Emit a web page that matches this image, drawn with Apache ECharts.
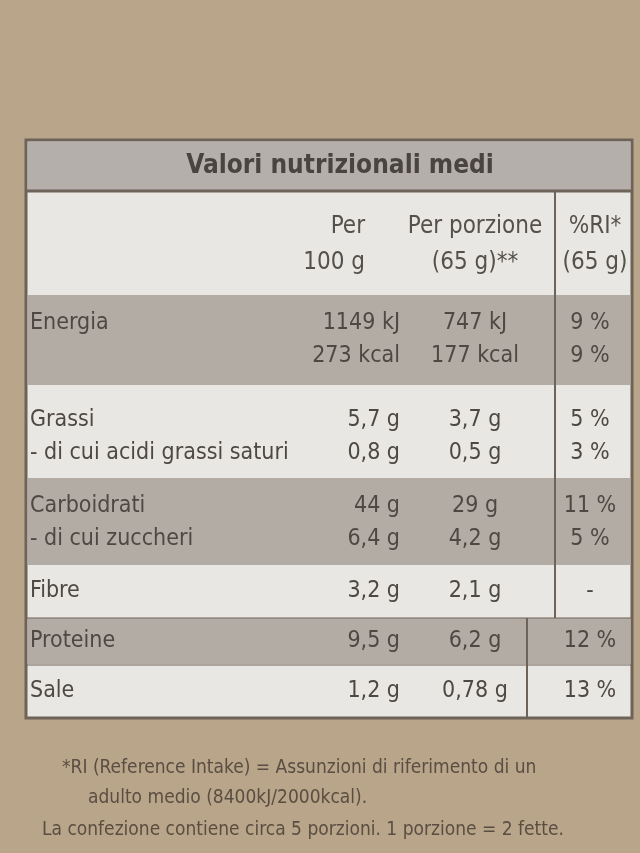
<!DOCTYPE html>
<html><head><meta charset="utf-8">
<script src="https://cdn.jsdelivr.net/npm/echarts@6/dist/echarts.min.js"></script>
<style>html,body{margin:0;padding:0;background:#b8a58a}#c{width:640px;height:853px}</style>
</head><body><div id="c"></div>
<script>
const title = "Valori nutrizionali medi";
const headers = [["", ""], ["Per", "100 g"], ["Per porzione", "(65 g)**"], ["%RI*", "(65 g)"]];
const nutrients = [
  ["Energia", ""],
  ["Grassi", "- di cui acidi grassi saturi"],
  ["Carboidrati", "- di cui zuccheri"],
  ["Fibre"],
  ["Proteine"],
  ["Sale"]
];
const per100 = [["1149 kJ", "273 kcal"], ["5,7 g", "0,8 g"], ["44 g", "6,4 g"], ["3,2 g"], ["9,5 g"], ["1,2 g"]];
const perPortion = [["747 kJ", "177 kcal"], ["3,7 g", "0,5 g"], ["29 g", "4,2 g"], ["2,1 g"], ["6,2 g"], ["0,78 g"]];
const ri = [["9 %", "9 %"], ["5 %", "3 %"], ["11 %", "5 %"], ["-"], ["12 %"], ["13 %"]];
const footer = [
  "*RI (Reference Intake) = Assunzioni di riferimento di un",
  "adulto medio (8400kJ/2000kcal).",
  "La confezione contiene circa 5 porzioni. 1 porzione = 2 fette."
];

const rowTops = [295, 392, 478, 568, 618, 666];
const rowBottoms = [385, 472, 565, 615, 664, 716];
const L = 26, R = 632, D = 555;
const font = '"Liberation Sans Narrow","DejaVu Sans Condensed",sans-serif';
const g = [];
g.push({type:'rect', shape:{x:L,y:140,width:R-L,height:578}, style:{fill:'#e9e7e3', stroke:'#6e6358', lineWidth:3}});
g.push({type:'rect', shape:{x:L+2,y:142,width:R-L-4,height:48}, style:{fill:'#b4afaa'}});
g.push({type:'text', x:340, y:166, style:{text:title, font:'bold 26px '+font, fill:'#4a4440', align:'center', verticalAlign:'middle'}});
const colX = [0, 365, 475, 595];
headers.forEach((h, i) => {
  if (!i) return;
  g.push({type:'text', x:colX[i], y:245, style:{text:h[0]+'\n'+h[1], font:'24px '+font, fill:'#55504b', align: i===1?'right':'center', verticalAlign:'middle', lineHeight:36}});
});
nutrients.forEach((n, i) => {
  const shaded = i % 2 === 0;
  if (shaded) g.push({type:'rect', shape:{x:L+2,y:rowTops[i],width:R-L-4,height:rowBottoms[i]-rowTops[i]}, style:{fill:'#b2aca5'}});
  const lines = n.length;
  const top = rowTops[i] + (lines === 2 ? 28 : (rowBottoms[i]-rowTops[i])/2);
  for (let k = 0; k < lines; k++) {
    const y = top + k * 33;
    if (n[k]) g.push({type:'text', x:30, y:y, style:{text:n[k], font:'23px '+font, fill:'#4e4843', verticalAlign:'middle'}});
    g.push({type:'text', x:400, y:y, style:{text:per100[i][k], font:'23px '+font, fill:'#4e4843', align:'right', verticalAlign:'middle'}});
    g.push({type:'text', x:475, y:y, style:{text:perPortion[i][k], font:'23px '+font, fill:'#4e4843', align:'center', verticalAlign:'middle'}});
    g.push({type:'text', x:590, y:y, style:{text:ri[i][k], font:'23px '+font, fill:'#4e4843', align:'center', verticalAlign:'middle'}});
  }
});
g.push({type:'line', shape:{x1:L,y1:191,x2:R,y2:191}, style:{stroke:'#6e6358', lineWidth:3}});
g.push({type:'line', shape:{x1:D,y1:191,x2:D,y2:618}, style:{stroke:'#6e6358', lineWidth:2}});
g.push({type:'line', shape:{x1:527,y1:618,x2:527,y2:718}, style:{stroke:'#6e6358', lineWidth:2}});
g.push({type:'line', shape:{x1:L,y1:618,x2:R,y2:618}, style:{stroke:'#6e6358', lineWidth:1}});
g.push({type:'line', shape:{x1:L,y1:665,x2:R,y2:665}, style:{stroke:'#6e6358', lineWidth:1}});
footer.forEach((t, i) => {
  g.push({type:'text', x:[62,88,42][i], y:[768,798,830][i], style:{text:t, font:'19px '+font, fill:'#5a4e42', verticalAlign:'middle'}});
});
const chart = echarts.init(document.getElementById('c'));
chart.setOption({backgroundColor:'#b8a58a', graphic:{elements:g}});
</script></body></html>
